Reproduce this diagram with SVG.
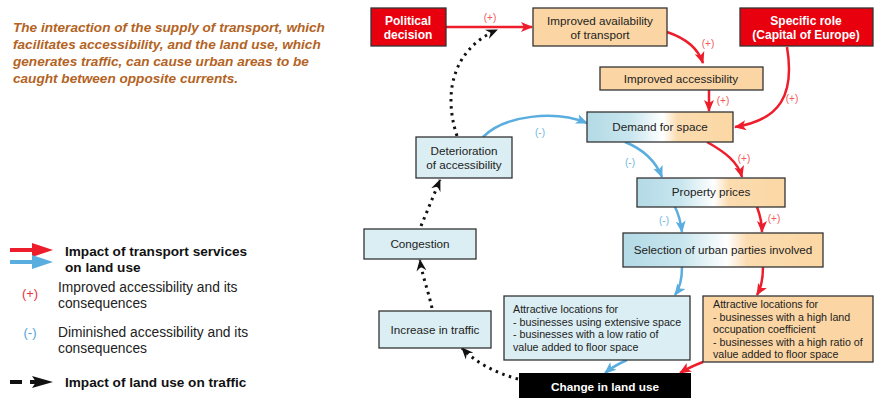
<svg xmlns="http://www.w3.org/2000/svg" width="877" height="398" viewBox="0 0 877 398">
<defs>
<linearGradient id="bp" x1="0" y1="0" x2="1" y2="0">
<stop offset="0" stop-color="#b3dae6"/>
<stop offset="0.3" stop-color="#c9e6ee"/>
<stop offset="0.52" stop-color="#ffffff"/>
<stop offset="0.62" stop-color="#fbdcb0"/>
<stop offset="1" stop-color="#fbd7a3"/>
</linearGradient>
<marker id="ar" markerUnits="userSpaceOnUse" markerWidth="12" markerHeight="12" viewBox="0 0 12 12" refX="11" refY="6" orient="auto">
<path d="M0,1 L12,6 L0,11 L3,6 Z" fill="#ee1d2b"/>
</marker>
<marker id="ab" markerUnits="userSpaceOnUse" markerWidth="12" markerHeight="12" viewBox="0 0 12 12" refX="11" refY="6" orient="auto">
<path d="M0,1 L12,6 L0,11 L3,6 Z" fill="#5aaedf"/>
</marker>
<marker id="ak" markerUnits="userSpaceOnUse" markerWidth="12" markerHeight="12" viewBox="0 0 12 12" refX="11" refY="6" orient="auto">
<path d="M0,1 L12,6 L0,11 L4,6 Z" fill="#111"/>
</marker>
</defs>
<style>
text{font-family:"Liberation Sans",Arial,sans-serif;}
.box{stroke:#333;stroke-width:1.3;}
.red{fill:#e8000f;}
.tan{fill:#fbd6a4;}
.blu{fill:#daeef3;}
.grd{fill:url(#bp);}
.t{font-size:11.7px;fill:#222;text-anchor:middle;}
.tw{font-size:12px;fill:#fff;font-weight:bold;text-anchor:middle;}
.tl{font-size:10.7px;fill:#222;}
.rl{stroke:#ee1d2b;stroke-width:2.5;fill:none;marker-end:url(#ar);}
.bl{stroke:#5aaedf;stroke-width:2.5;fill:none;marker-end:url(#ab);}
.dl{stroke:#111;stroke-width:3;fill:none;stroke-dasharray:2.5 4.5;marker-end:url(#ak);}
.lp{font-size:10px;fill:#f0585c;text-anchor:middle;}
.lm{font-size:10px;fill:#6cb8e0;text-anchor:middle;}
.title{font-size:13.6px;font-weight:bold;font-style:italic;fill:#b3631f;}
.lg{font-size:13.8px;fill:#222;}
.lgb{font-size:13.6px;font-weight:bold;fill:#111;}
</style>
<rect width="877" height="398" fill="#fff"/>
<g id="title">
<text class="title" x="13" y="32">The interaction of the supply of transport, which</text>
<text class="title" x="13" y="49">facilitates accessibility, and the land use, which</text>
<text class="title" x="13" y="66">generates traffic, can cause urban areas to be</text>
<text class="title" x="13" y="83">caught between opposite currents.</text>
</g>
<g id="legend">
<line x1="10" y1="250" x2="38" y2="250" stroke="#ee1d2b" stroke-width="4"/>
<path d="M32,243 L53,250 L32,257 Z" fill="#ee1d2b"/>
<line x1="10" y1="262" x2="38" y2="262" stroke="#5aaedf" stroke-width="4"/>
<path d="M32,255 L53,262 L32,269 Z" fill="#5aaedf"/>
<text class="lgb" x="65" y="256">Impact of transport services</text>
<text class="lgb" x="65" y="272">on land use</text>
<text x="30" y="298" font-size="13" fill="#e8353b" text-anchor="middle">(+)</text>
<text class="lg" x="58" y="292">Improved accessibility and its</text>
<text class="lg" x="58" y="308">consequences</text>
<text x="30" y="337" font-size="13" fill="#4ea6d9" text-anchor="middle">(-)</text>
<text class="lg" x="58" y="337">Diminished accessibility and its</text>
<text class="lg" x="58" y="353">consequences</text>
<line x1="10" y1="382" x2="22" y2="382" stroke="#111" stroke-width="4"/>
<line x1="30" y1="382" x2="40" y2="382" stroke="#111" stroke-width="4"/>
<path d="M32,376 L53,382 L32,388 L36,382 Z" fill="#111"/>
<text class="lgb" x="65" y="387">Impact of land use on traffic</text>
</g>
<g id="connectors">
<line class="rl" x1="446" y1="27" x2="532" y2="27"/>
<text class="lp" x="490" y="21">(+)</text>
<path class="rl" d="M667,32 C685,38 698,48 703,63"/>
<text class="lp" x="708" y="47">(+)</text>
<line class="rl" x1="709" y1="90" x2="709" y2="111"/>
<text class="lp" x="723" y="104">(+)</text>
<path class="rl" d="M787,47 C795,95 780,120 735,127"/>
<text class="lp" x="792" y="102">(+)</text>
<path class="bl" d="M483,137 C505,115 555,110 587,123"/>
<text class="lm" x="540" y="136">(-)</text>
<path class="bl" d="M625,142 C645,150 656,162 662,177"/>
<text class="lm" x="630" y="166">(-)</text>
<path class="rl" d="M707,142 C725,152 738,162 742,177"/>
<text class="lp" x="744" y="162">(+)</text>
<path class="bl" d="M675,207 C679,215 681,224 682,232"/>
<text class="lm" x="664" y="224">(-)</text>
<path class="rl" d="M757,207 C760,215 762,224 762,232"/>
<text class="lp" x="774" y="222">(+)</text>
<path class="bl" d="M682,267 C682,280 680,288 675,295"/>
<path class="rl" d="M763,267 C763,280 761,288 757,295"/>
<path class="bl" d="M627,360 C618,364 611,368 605,373"/>
<path class="rl" d="M703,362 C695,365 688,368 680,373"/>
<path class="dl" d="M457,136 C442,90 455,48 497,30"/>
<path class="dl" d="M421,226 L440,180"/>
<path class="dl" d="M432,308 C428,290 422,275 420,260"/>
<path class="dl" d="M518,379 C495,373 475,362 462,348"/>
</g>
<g id="n-political">
<rect class="box red" x="371" y="8" width="75" height="38"/>
<text class="tw" x="408" y="25">Political</text>
<text class="tw" x="408" y="39">decision</text>
</g>
<g id="n-availability">
<rect class="box tan" x="533" y="8" width="134" height="38"/>
<text class="t" x="600" y="25">Improved availability</text>
<text class="t" x="600" y="39">of transport</text>
</g>
<g id="n-specific">
<rect class="box red" x="740" y="8" width="133" height="38"/>
<text class="tw" x="806" y="25">Specific role</text>
<text class="tw" x="806" y="39">(Capital of Europe)</text>
</g>
<g id="n-accessibility">
<rect class="box tan" x="600" y="67" width="163" height="23"/>
<text class="t" x="681" y="83">Improved accessibility</text>
</g>
<g id="n-demand">
<rect class="box grd" x="587" y="112" width="146" height="30"/>
<text class="t" x="660" y="131">Demand for space</text>
</g>
<g id="n-deterioration">
<rect class="box blu" x="416" y="137" width="96" height="41"/>
<text class="t" x="464" y="155">Deterioration</text>
<text class="t" x="464" y="169">of accessibility</text>
</g>
<g id="n-property">
<rect class="box grd" x="637" y="178" width="148" height="29"/>
<text class="t" x="711" y="196">Property prices</text>
</g>
<g id="n-selection">
<rect class="box grd" x="623" y="233" width="200" height="34"/>
<text class="t" x="723" y="254">Selection of urban parties involved</text>
</g>
<g id="n-congestion">
<rect class="box blu" x="364" y="229" width="112" height="30"/>
<text class="t" x="420" y="248">Congestion</text>
</g>
<g id="n-traffic">
<rect class="box blu" x="379" y="311" width="112" height="37"/>
<text class="t" x="435" y="334">Increase in traffic</text>
</g>
<g id="n-attr-left">
<rect class="box blu" x="504" y="296" width="186" height="64"/>
<text class="tl" x="513" y="313">Attractive locations for</text>
<text class="tl" x="513" y="326">- businesses using extensive space</text>
<text class="tl" x="513" y="338">- businesses with a low ratio of</text>
<text class="tl" x="513" y="351">value added to  floor space</text>
</g>
<g id="n-attr-right">
<rect class="box tan" x="703" y="296" width="170" height="66"/>
<text class="tl" x="713" y="308">Attractive locations for</text>
<text class="tl" x="713" y="321">- businesses with a high land</text>
<text class="tl" x="713" y="333">occupation coefficient</text>
<text class="tl" x="713" y="346">- businesses with a high ratio of</text>
<text class="tl" x="713" y="358">value added to  floor space</text>
</g>
<g id="n-change">
<rect x="519" y="373" width="172" height="30" fill="#000"/>
<text x="605" y="391" font-size="11.8" font-weight="bold" fill="#fff" text-anchor="middle">Change in land use</text>
</g>
</svg>
